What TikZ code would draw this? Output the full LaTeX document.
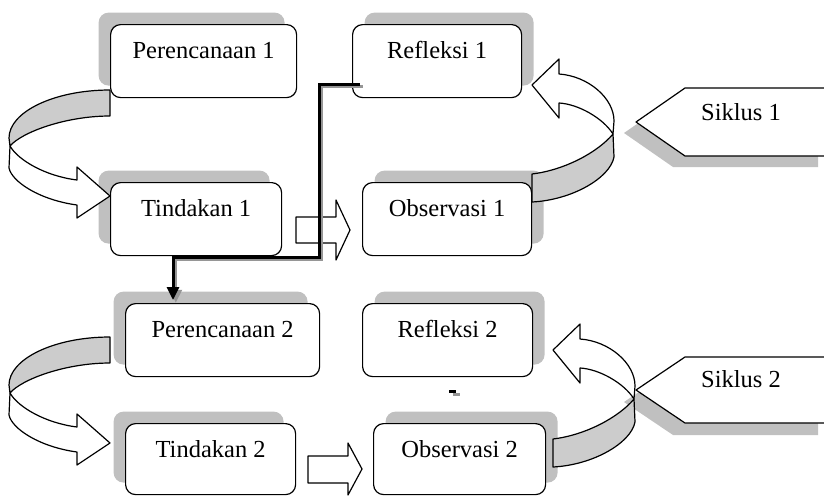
\documentclass[tikz,border=0pt]{standalone}
\usepackage{fontspec}
\setmainfont{Liberation Serif}
\usetikzlibrary{shadows,arrows.meta,calc}
\definecolor{shd}{RGB}{192,192,192}
\definecolor{band}{RGB}{204,204,204}
\definecolor{cgray}{RGB}{150,150,150}
\begin{document}
\begin{tikzpicture}[x=1pt,y=-1pt,
  box/.style={draw=black, line width=1.2pt, fill=white, rounded corners=10pt,
    inner sep=0pt, text height=34pt, text depth=39pt, anchor=north west,
    font=\fontsize{24.5}{29}\selectfont},
  shl/.style={general shadow={fill=shd, shadow xshift=-12pt, shadow yshift=12pt}},
  shr/.style={general shadow={fill=shd, shadow xshift=12pt, shadow yshift=12pt}},
  lbl/.style={font=\fontsize{24.5}{29}\selectfont, inner sep=0pt},
  ol/.style={draw=black, line width=1.2pt, line join=round},
  conn/.style={line width=3pt, -{Triangle[length=13pt,width=12pt]}},
]
\useasboundingbox (0,0) rectangle (824,496);
\clip (0,0) rectangle (824,496);

% boxes
\node[box,shl,minimum width=186pt] (p1) at (110,24) {Perencanaan 1};
\node[box,shl,minimum width=171pt] (t1) at (110,182) {Tindakan 1};
\node[box,shr,minimum width=169pt] (r1) at (352,24) {Refleksi 1};
\node[box,shr,minimum width=169pt] (o1) at (362,182) {Observasi 1};
\node[box,shl,minimum width=194pt] (p2) at (125,303) {Perencanaan 2};
\node[box,shl,minimum width=170pt,text depth=37pt] (t2) at (125,423) {Tindakan 2};
\node[box,shr,minimum width=170pt] (r2) at (362,303) {Refleksi 2};
\node[box,shr,minimum width=172pt,text depth=37pt] (o2) at (373,423) {Observasi 2};

% Siklus pentagons
\fill[shd] (624,133) -- (673,99) -- (818,99) -- (818,167) -- (673,167) -- cycle;
\filldraw[ol, fill=white] (636,122) -- (685,88) -- (830,88) -- (830,156) -- (685,156) -- cycle;
\node[lbl] (s1) at (741,112) {Siklus 1};
\fill[shd] (624,402) -- (673,369) -- (818,369) -- (818,435) -- (673,435) -- cycle;
\filldraw[ol, fill=white] (636,390) -- (685,357) -- (830,357) -- (830,423) -- (685,423) -- cycle;
\node[lbl] (s2) at (741,379) {Siklus 2};

% curved arrows, left side
\foreach \dy in {0,247}{
\begin{scope}[shift={(0,\dy)}]
  \filldraw[ol, fill=band] (110,90) .. controls (54,90) and (9,112) .. (9,138) -- (10,146)
     .. controls (22,132) and (66,116) .. (110,116) -- cycle;
  \filldraw[ol, fill=white] (10,146) -- (9,168) .. controls (12,182) and (40,200) .. (77,205)
     -- (77,218) -- (110,196) -- (77,167) -- (77,180) .. controls (45,176) and (18,160) .. (10,146) -- cycle;
\end{scope}
}
% curved arrows, right side
\foreach \dx/\dy in {0/0,21/265}{
\begin{scope}[shift={(\dx,\dy)}]
  \filldraw[ol, fill=band] (532,174) .. controls (565,170) and (598,152) .. (613,134) -- (614,157)
     .. controls (610,178) and (572,200) .. (532,202) -- cycle;
  \filldraw[ol, fill=white] (614,121) .. controls (614,98) and (588,76) .. (559,74) -- (559,59)
     -- (532,85) -- (559,118) -- (559,103) .. controls (578,104) and (603,118) .. (613,134) -- cycle;
\end{scope}
}

% block arrows
\filldraw[ol, fill=white] (296,217) -- (336,217) -- (336,200) -- (350,230) -- (336,260) -- (336,243) -- (296,243) -- cycle;
\filldraw[ol, fill=white] (308,456) -- (348,456) -- (348,443) -- (362,469) -- (348,495) -- (348,483) -- (308,483) -- cycle;

% elbow connector Refleksi 1 -> Perencanaan 2
\coordinate (c0) at (360,84);
\coordinate (c1) at (319,84);
\coordinate (c2) at (319,257);
\coordinate (c3) at (173,257);
\coordinate (c4) at (173,300);
\draw[conn, color=cgray, transform canvas={shift={(2.8pt,-2.8pt)}}] (c0) -- (c1) -- (c2) -- (c3) -- (c4);
\draw[conn] (c0) -- (c1) -- (c2) -- (c3) -- (c4);

% small stray mark
\fill[cgray] (453,393) rectangle (460,395.5);
\fill[black] (449,390) rectangle (456,392.5);
\end{tikzpicture}
\end{document}
